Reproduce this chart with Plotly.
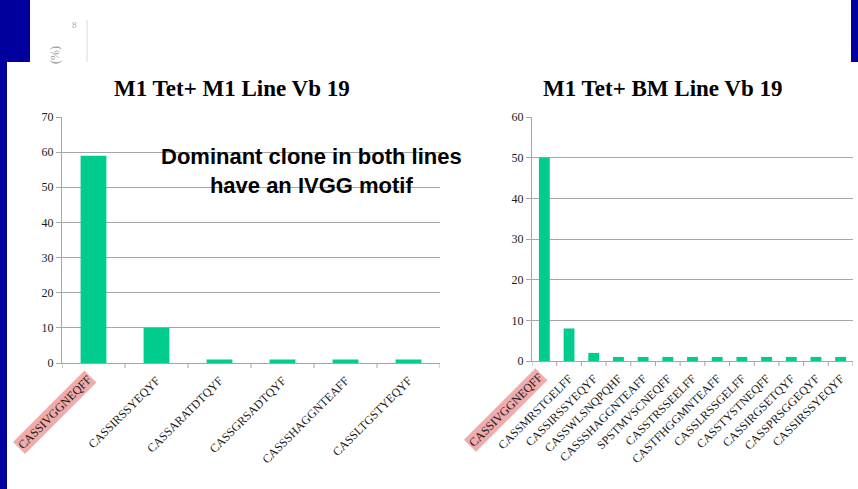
import plotly.graph_objects as go

W, H = 858, 489

left_title = "M1 Tet+ M1 Line Vb 19"
right_title = "M1 Tet+ BM Line Vb 19"

left_cats = ["CASSIVGGNEQFF", "CASSIRSSYEQYF", "CASSARATDTQYF",
             "CASSGRSADTQYF", "CASSSHAGGNTEAFF", "CASSLTGSTYEQYF"]
left_vals = [59, 10, 1, 1, 1, 1]
left_ticks = [0, 10, 20, 30, 40, 50, 60, 70]

right_cats = ["CASSIVGGNEQFF", "CASSMRSTGELFF", "CASSIRSSYEQYF", "CASSWLSNQPQHF",
              "CASSSHAGGNTEAFF", "SPSTMVSCNEQFF", "CASSTRSSEELFF", "CASTFHGGMNTEAFF",
              "CASSLRSSGELFF", "CASSTYSTNEQFF", "CASSIRGSETQYF", "CASSPRSGGEQYF",
              "CASSIRSSYEQYF"]
right_vals = [50, 8, 2, 1, 1, 1, 1, 1, 1, 1, 1, 1, 1]
right_ticks = [0, 10, 20, 30, 40, 50, 60]

note_lines = ["Dominant clone in both lines", "have an IVGG motif"]

BAR = "#00CC8E"
GRID = "#A6A6A6"
BLUE = "#00009E"
SERIF = "Liberation Serif, Times New Roman, serif"
HILITE = "rgba(232,120,120,0.62)"


def px(x):
    return x / W


def py(y):
    return 1 - y / H


lx = list(range(len(left_cats)))
rx = list(range(len(right_cats)))

fig = go.Figure()
fig.add_trace(go.Bar(x=lx, y=left_vals, marker=dict(color=BAR, line=dict(width=0)),
                     width=0.41, xaxis="x", yaxis="y", showlegend=False, hoverinfo="skip"))
fig.add_trace(go.Bar(x=rx, y=right_vals, marker=dict(color=BAR, line=dict(width=0)),
                     width=0.44, xaxis="x2", yaxis="y2", showlegend=False, hoverinfo="skip"))

tf = dict(family=SERIF, size=12, color="#1a1a1a")
xcommon = dict(showline=True, linecolor=GRID, linewidth=1, ticks="", automargin=False,
               tickfont=tf, tickangle=-45, showgrid=False, zeroline=False, tickmode="array",
               ticklabelstandoff=5)
ycommon = dict(showline=True, linecolor=GRID, linewidth=1, ticks="outside", tickcolor=GRID,
               ticklen=5, automargin=False, tickfont=tf, showgrid=True, gridcolor=GRID,
               gridwidth=1, zeroline=False, tickmode="array")

fig.update_layout(
    width=W, height=H, autosize=False, margin=dict(l=0, r=0, t=0, b=0, pad=0),
    paper_bgcolor="white", plot_bgcolor="white",
    xaxis=dict(domain=[px(62), px(440)], anchor="y", range=[-0.5, len(left_cats) - 0.5],
               tickvals=lx, ticktext=[""] + left_cats[1:], **xcommon),
    yaxis=dict(domain=[py(363), py(117)], anchor="x", range=[0, 70], tickvals=left_ticks,
               **ycommon),
    xaxis2=dict(domain=[px(532), px(853)], anchor="y2", range=[-0.5, len(right_cats) - 0.5],
                tickvals=rx, ticktext=[""] + right_cats[1:], **xcommon),
    yaxis2=dict(domain=[py(361), py(117)], anchor="x2", range=[0, 60], tickvals=right_ticks,
                **ycommon),
)

# category boundary ticks on both x axes
for xref, n, y0 in (("x", len(left_cats), 363), ("x2", len(right_cats), 361)):
    for i in range(n + 1):
        fig.add_shape(type="line", xref=xref, yref="paper", x0=i - 0.5, x1=i - 0.5,
                      y0=py(y0), y1=py(y0 + 5), line=dict(color=GRID, width=1))

shapes = [
    dict(type="rect", xref="paper", yref="paper", x0=0, x1=px(7), y0=0, y1=1,
         fillcolor=BLUE, line=dict(width=0), layer="above"),
    dict(type="rect", xref="paper", yref="paper", x0=0, x1=px(30), y0=py(62), y1=1,
         fillcolor=BLUE, line=dict(width=0), layer="above"),
    dict(type="rect", xref="paper", yref="paper", x0=px(851), x1=1, y0=py(62), y1=1,
         fillcolor=BLUE, line=dict(width=0), layer="above"),
    dict(type="line", xref="paper", yref="paper", x0=px(87), x1=px(87), y0=py(62), y1=py(20),
         line=dict(color="#D8D8D8", width=1)),
]
for s in shapes:
    fig.add_shape(**s)

ann = [
    dict(text="<b>" + left_title + "</b>", x=px(232), y=py(88), xref="paper", yref="paper",
         showarrow=False, font=dict(family=SERIF, size=23, color="black"),
         xanchor="center", yanchor="middle"),
    dict(text="<b>" + right_title + "</b>", x=px(663), y=py(88), xref="paper", yref="paper",
         showarrow=False, font=dict(family=SERIF, size=23, color="black"),
         xanchor="center", yanchor="middle"),
    dict(text="<br>".join("<b>" + s + "</b>" for s in note_lines), x=px(311), y=py(171),
         xref="paper", yref="paper", showarrow=False,
         font=dict(family="Liberation Sans, Arial, sans-serif", size=22, color="black"),
         xanchor="center", yanchor="middle", align="center"),
    dict(text=left_cats[0], x=0, xref="x", y=py(370), yref="paper", showarrow=False,
         textangle=-45, xanchor="right", yanchor="top", bgcolor=HILITE, borderpad=1,
         font=tf, xshift=4),
    dict(text=right_cats[0], x=0, xref="x2", y=py(368), yref="paper", showarrow=False,
         textangle=-45, xanchor="right", yanchor="top", bgcolor=HILITE, borderpad=1,
         font=tf, xshift=4),
    dict(text="8", x=px(70), y=py(18), xref="paper", yref="paper", showarrow=False,
         font=dict(family=SERIF, size=9, color="#AAAAAA")),
    dict(text="(%)", x=px(46), y=py(44), xref="paper", yref="paper", showarrow=False,
         textangle=-90, font=dict(family=SERIF, size=12, color="#999999")),
]
for a in ann:
    fig.add_annotation(**a)

fig.write_html("out.html", config={"displayModeBar": False},
               post_script="document.body.style.margin='0';document.body.style.padding='0';")
